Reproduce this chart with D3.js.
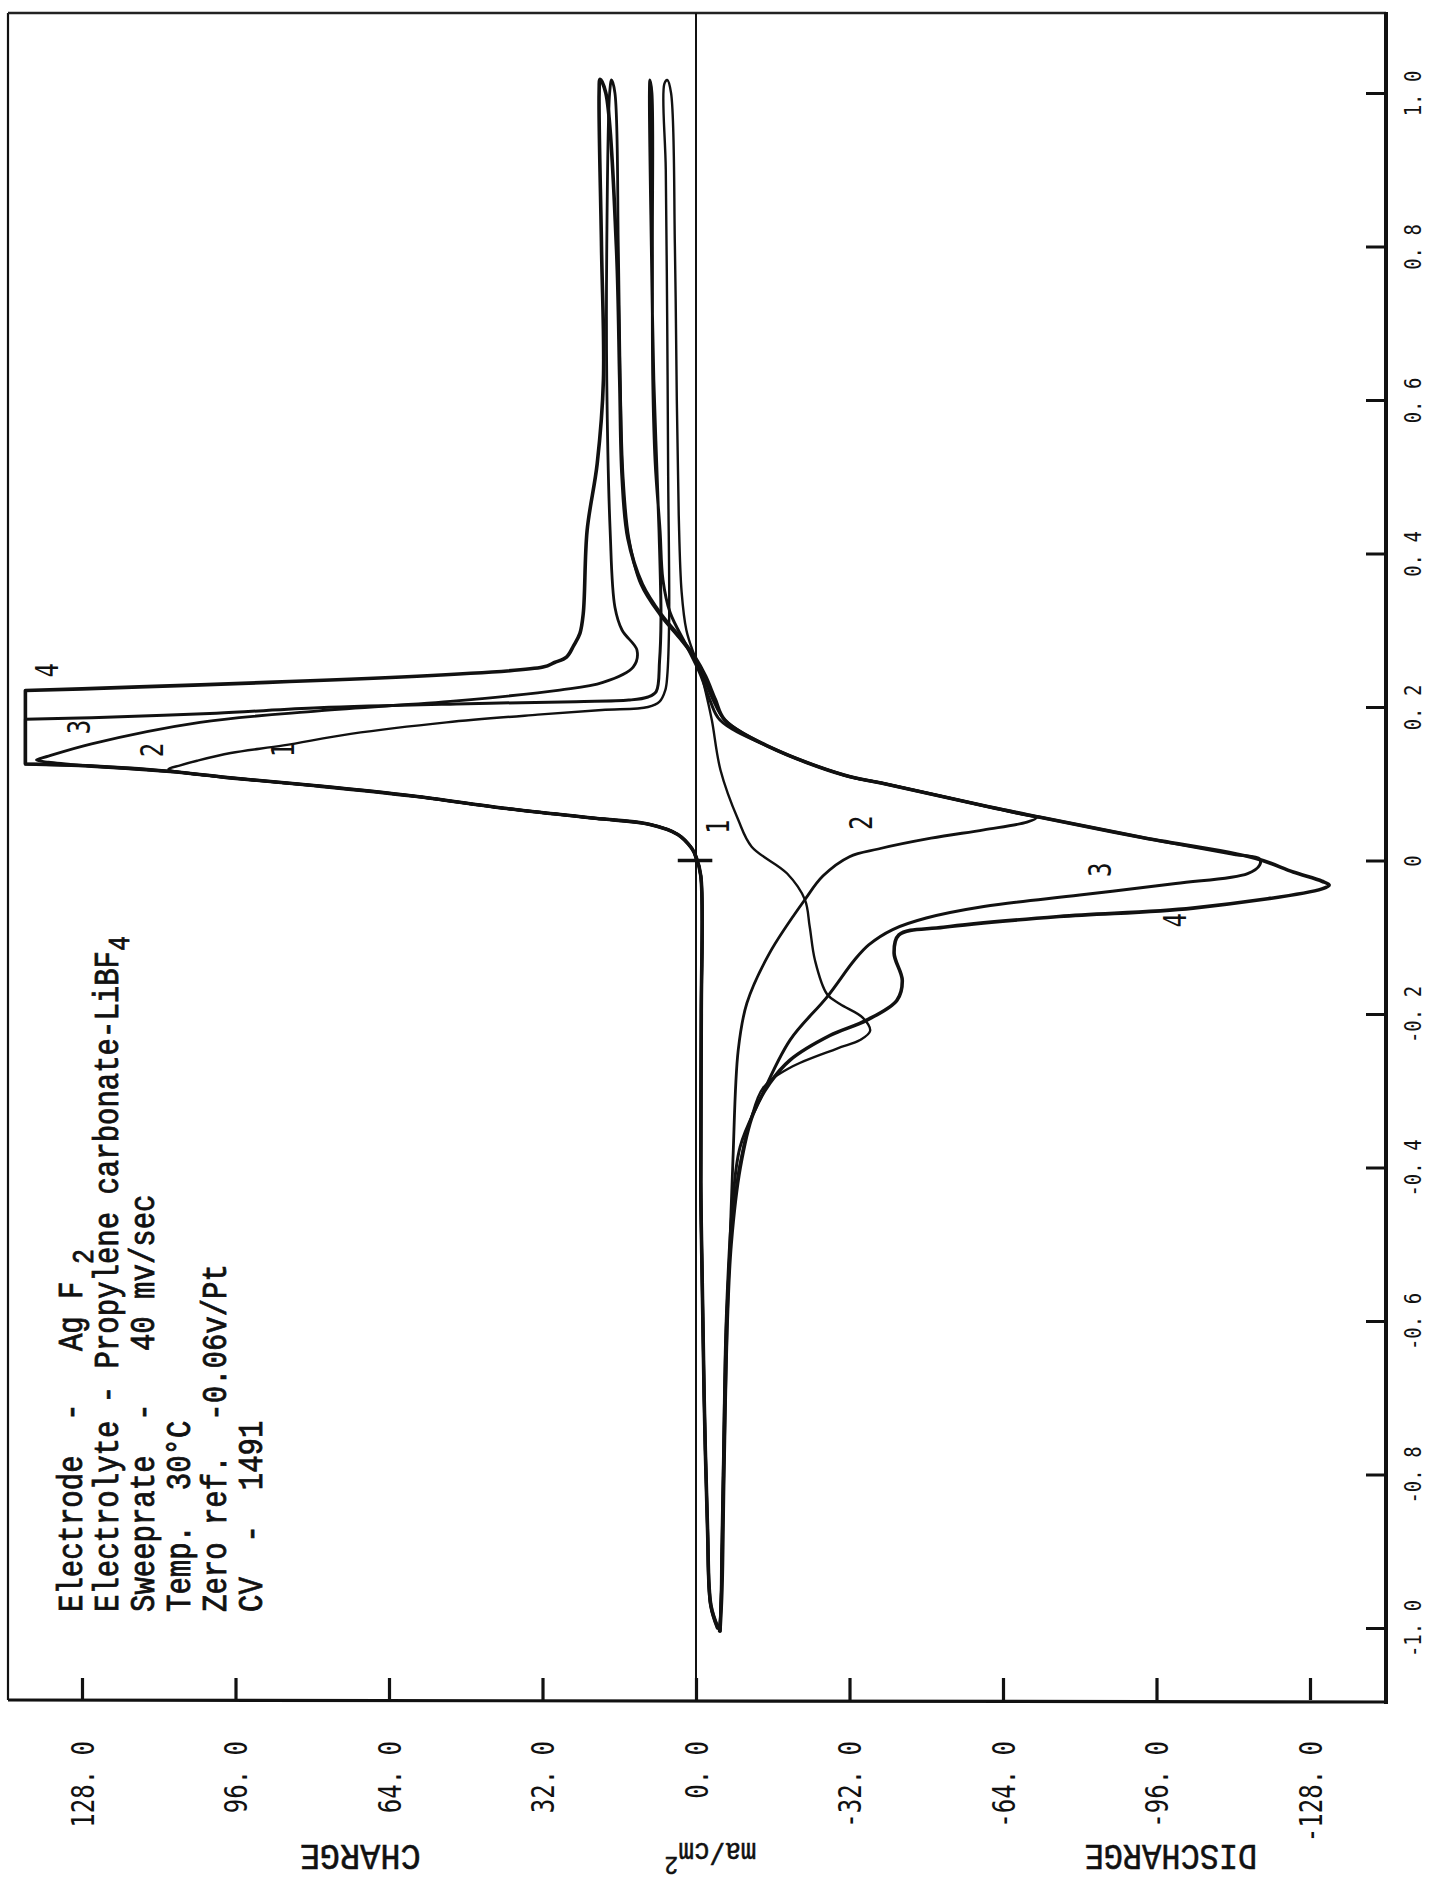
<!DOCTYPE html>
<html>
<head>
<meta charset="utf-8">
<script src="https://cdn.jsdelivr.net/npm/d3@7"></script>
<style>
  html, body { margin: 0; padding: 0; background: #fff; }
  svg { display: block; }
  text { white-space: pre; }
</style>
</head>
<body>
<svg id="chart" width="1430" height="1886"></svg>
<script>
// Potential sweep axis (volts) and current axis (ma/cm2)
const voltTicks = [1.0, 0.8, 0.6, 0.4, 0.2, 0, -0.2, -0.4, -0.6, -0.8, -1.0];
const voltLabels = ["1. 0", "0. 8", "0. 6", "0. 4", "0. 2", "0", "-0. 2", "-0. 4", "-0. 6", "-0. 8", "-1. 0"];
const currentTicks = [128, 96, 64, 32, 0, -32, -64, -96, -128];
const currentLabels = ["128. 0", "96. 0", "64. 0", "32. 0", "0. 0", "-32. 0", "-64. 0", "-96. 0", "-128. 0"];

// Recorder pen limit on the charge side (ma/cm2)
const penLimit = 139.8;

// Each cycle as [volts, ma/cm2] in sweep order
const cycle1 = [
  [0.000, 0.0], [0.016, 0.9], [0.034, 3.8], [0.047, 9.6], [0.055, 21], [0.068, 40], [0.084, 59],
  [0.097, 78.6], [0.108, 97.7], [0.116, 108.5], [0.119, 110], [0.124, 107.5], [0.130, 104],
  [0.140, 97], [0.150, 86], [0.165, 72], [0.180, 52], [0.190, 33], [0.196, 19.6], [0.200, 10],
  [0.207, 7.6], [0.222, 6.4], [0.240, 6.0], [0.313, 5.6], [0.50, 5.8], [0.70, 6.0], [0.90, 6.3],
  [1.012, 6.6], [1.017, 6.0], [1.000, 5.2], [0.80, 4.4], [0.60, 4.0], [0.45, 3.6], [0.35, 3.0],
  [0.30, 2.0], [0.27, 0.5], [0.25, -0.8], [0.22, -2.0], [0.183, -3.3], [0.118, -5.1], [0.053, -8.8],
  [0.018, -11.6], [-0.017, -19], [-0.051, -22.7], [-0.086, -23.7], [-0.13, -24.8], [-0.174, -27.3],
  [-0.187, -30], [-0.205, -34.8], [-0.222, -36.3], [-0.234, -34.2], [-0.245, -29.4], [-0.27, -19.6],
  [-0.296, -14], [-0.34, -11.3], [-0.40, -9.0], [-0.50, -7.2], [-0.60, -6.3], [-0.70, -5.9],
  [-0.80, -5.6], [-0.90, -5.3], [-0.98, -5.1], [-1.004, -4.8]
];

const cycle2 = [
  [-1.0, -4.4], [-0.97, -3.0], [-0.87, -2.4], [-0.70, -1.7], [-0.55, -1.3], [-0.42, -1.0],
  [-0.20, -1.1], [-0.02, -1.0], [0.005, 0], [0.016, 0.9], [0.034, 3.8], [0.047, 9.6], [0.055, 21],
  [0.068, 40], [0.084, 59], [0.097, 78.6], [0.108, 97.7], [0.116, 109.6], [0.123, 126], [0.128, 135],
  [0.131, 137.5], [0.136, 135], [0.152, 126], [0.180, 103.4], [0.195, 78.6], [0.208, 50],
  [0.222, 28.4], [0.232, 19.4], [0.252, 13.1], [0.274, 12.3], [0.30, 15.4], [0.33, 16.9],
  [0.43, 17.9], [0.626, 18.6], [0.80, 18.6], [1.00, 18.0], [1.017, 17.6], [1.00, 16.9], [0.80, 16.2],
  [0.626, 15.8], [0.50, 15.2], [0.42, 14.0], [0.36, 11.5], [0.32, 7.5], [0.29, 3.5], [0.265, 0.5],
  [0.24, -1.5], [0.21, -3.5], [0.183, -6], [0.148, -15.3], [0.111, -31], [0.101, -38.6], [0.07, -61],
  [0.060, -68], [0.056, -71], [0.050, -69], [0.040, -60], [0.029, -49], [0.015, -38], [0.005, -32],
  [-0.02, -26.5], [-0.051, -22.7], [-0.121, -15.3], [-0.186, -10.6], [-0.247, -8.8], [-0.39, -7.7],
  [-0.494, -7.1], [-0.60, -6.5], [-0.80, -5.8], [-0.95, -5.3], [-1.004, -5.0]
];

const cycle3 = [
  [-1.0, -4.6], [-0.97, -3.1], [-0.87, -2.4], [-0.70, -1.7], [-0.55, -1.3], [-0.42, -1.0],
  [-0.20, -1.1], [-0.02, -1.0], [0.005, 0], [0.016, 0.9], [0.034, 3.8], [0.047, 9.6], [0.055, 21],
  [0.068, 40], [0.084, 59], [0.097, 78.6], [0.108, 97.7], [0.116, 109.6], [0.123, 126],
  [0.1257, 139.8], [0.184, 139.8], [0.186, 126], [0.192, 100], [0.199, 78.6], [0.204, 50],
  [0.207, 25], [0.209, 14], [0.213, 10], [0.22, 8.3], [0.26, 7.6], [0.313, 7.3], [0.43, 7.7],
  [0.626, 8.8], [0.80, 9.3], [1.00, 9.7], [1.017, 9.6], [1.00, 9.2], [0.80, 9.1], [0.626, 9.0],
  [0.518, 8.5], [0.43, 7.5], [0.366, 6.9], [0.323, 5.4], [0.28, 2.0], [0.244, -0.8], [0.209, -2.9],
  [0.183, -5], [0.148, -15.3], [0.111, -31], [0.101, -38.6], [0.07, -61], [0.056, -72], [0.03, -93],
  [0.008, -112], [0.002, -117.5], [-0.006, -117.5], [-0.017, -115], [-0.030, -100], [-0.045, -80],
  [-0.060, -60], [-0.075, -48], [-0.09, -41], [-0.11, -36], [-0.13, -33], [-0.178, -27.3],
  [-0.234, -19.6], [-0.312, -13.3], [-0.373, -9.2], [-0.45, -7.6], [-0.60, -6.3], [-0.80, -5.7],
  [-0.95, -5.3], [-1.004, -5.0]
];

const cycle4 = [
  [-1.0, -4.6], [-0.97, -3.1], [-0.87, -2.4], [-0.70, -1.7], [-0.55, -1.3], [-0.42, -1.0],
  [-0.20, -1.1], [-0.02, -1.0], [0.005, 0], [0.016, 0.9], [0.034, 3.8], [0.047, 9.6], [0.055, 21],
  [0.068, 40], [0.084, 59], [0.097, 78.6], [0.108, 97.7], [0.116, 109.6], [0.123, 126],
  [0.1257, 139.8], [0.2215, 139.8], [0.252, 31.9], [0.258, 29.5], [0.265, 27], [0.28, 25.5],
  [0.296, 24.2], [0.322, 23.5], [0.43, 22.7], [0.517, 20.6], [0.626, 19.3], [0.80, 19.7],
  [1.00, 20.2], [1.018, 20.0], [1.00, 18.8], [0.80, 16.6], [0.626, 15.9], [0.50, 15.4], [0.42, 14.2],
  [0.36, 11.2], [0.32, 7.2], [0.29, 3.2], [0.265, 0.2], [0.24, -2], [0.21, -4], [0.183, -6],
  [0.148, -15.3], [0.111, -31], [0.101, -38.6], [0.07, -61], [0.056, -72], [0.03, -93],
  [0.003, -116.6], [-0.015, -124.5], [-0.027, -130.5], [-0.032, -132], [-0.037, -130.5],
  [-0.062, -103.6], [-0.073, -75.7], [-0.087, -51.6], [-0.097, -42.3], [-0.121, -41.3],
  [-0.156, -43], [-0.182, -41.9], [-0.208, -35.6], [-0.228, -27.9], [-0.26, -19.6], [-0.29, -15.4],
  [-0.33, -11.9], [-0.40, -9.2], [-0.50, -7.3], [-0.60, -6.5], [-0.80, -5.8], [-0.95, -5.4],
  [-1.004, -5.0]
];

const cycleNames = ["1", "2", "3", "4"];
const cycleWidths = [2.4, 2.8, 3.0, 3.6];

// Cycle numbers written beside the peaks
const peakLabelText = ["4", "3", "2", "1", "1", "2", "3", "4"];
const peakLabelVolts = [0.248, 0.174, 0.144, 0.144, 0.044, 0.049, -0.012, -0.078];
const peakLabelCurrent = [135.3, 128.6, 113.4, 86.2, -4.6, -34.4, -84.1, -99.9];

// Run conditions
const conditionLines = [
  ["Electrode  -   Ag F ", "2"],
  ["Electrolyte - Propylene carbonate-LiBF", "4"],
  ["Sweeprate  -   40 mv/sec", ""],
  ["Temp.  30\u00B0C", ""],
  ["Zero ref.  -0.06v/Pt", ""],
  ["CV  -  1491", ""]
];

const svg = d3.select("#chart");
const frame = { left: 8, top: 13, right: 1386, bottom: 1700 };

const x = d3.scaleLinear().domain([128, -128]).range([82, 1310]);
const y = d3.scaleLinear().domain([1, -1]).range([93, 1628]);

const ink = "#111";

// Frame: left and top edges
svg.append("line").attr("x1", frame.left).attr("x2", frame.left)
  .attr("y1", frame.top).attr("y2", frame.bottom)
  .attr("stroke", ink).attr("stroke-width", 2.2);
svg.append("line").attr("x1", frame.left).attr("x2", frame.right)
  .attr("y1", frame.top).attr("y2", frame.top)
  .attr("stroke", "#222").attr("stroke-width", 2.6);

// Zero-current line across the whole plot
svg.append("line").attr("x1", x(0)).attr("x2", x(0))
  .attr("y1", frame.top).attr("y2", frame.bottom)
  .attr("stroke", ink).attr("stroke-width", 2);

// Current axis along the bottom, ticks pointing into the plot
const bottomAxis = d3.axisBottom(x)
  .tickValues(currentTicks)
  .tickSizeInner(-22).tickSizeOuter(0)
  .tickFormat((d, i) => currentLabels[i]);
const gB = svg.append("g").attr("transform", `translate(0,${frame.bottom})`).call(bottomAxis);
gB.select(".domain").remove();
gB.selectAll(".tick line").attr("stroke", ink).attr("stroke-width", 3.2);
gB.selectAll(".tick text")
  .attr("x", 0).attr("y", 0).attr("dy", "0.36em")
  .attr("text-anchor", "end")
  .attr("transform", "translate(0,41) rotate(-90) scale(1,1.3)")
  .style("font-family", "'DejaVu Sans Mono', monospace")
  .style("font-size", "24px").attr("fill", ink);
svg.append("line").attr("x1", frame.left).attr("x2", frame.right)
  .attr("y1", frame.bottom).attr("y2", frame.bottom + 2)
  .attr("stroke", ink).attr("stroke-width", 3.2);

// Potential axis along the right, ticks pointing into the plot
const rightAxis = d3.axisRight(y)
  .tickValues(voltTicks)
  .tickSizeInner(-20).tickSizeOuter(0)
  .tickFormat((d, i) => voltLabels[i]);
const gR = svg.append("g").attr("transform", `translate(${frame.right},0)`).call(rightAxis);
gR.select(".domain").remove();
gR.selectAll(".tick line").attr("stroke", ink).attr("stroke-width", 3);
gR.selectAll(".tick text")
  .attr("x", 0).attr("y", 0).attr("dy", "0.36em")
  .attr("text-anchor", "middle")
  .attr("transform", "translate(26,0) rotate(-90) scale(1,1.25)")
  .style("font-family", "'DejaVu Sans Mono', monospace")
  .style("font-size", "19px").attr("fill", ink);
svg.append("line").attr("x1", frame.right).attr("x2", frame.right)
  .attr("y1", frame.top - 1).attr("y2", frame.bottom + 4)
  .attr("stroke", ink).attr("stroke-width", 4);

// Voltammogram traces; points held at the pen limit become sharp corners
const trace = d3.line()
  .x(d => x(d[1]))
  .y(d => y(d[0]))
  .curve(d3.curveCatmullRom.alpha(0.5));

function splitAtPenLimit(points) {
  const pieces = [];
  let cur = [points[0]];
  for (let i = 1; i < points.length; i++) {
    cur.push(points[i]);
    if (points[i][1] >= penLimit && i < points.length - 1) {
      pieces.push(cur);
      cur = [points[i]];
    }
  }
  if (cur.length > 1) pieces.push(cur);
  return pieces;
}

const cycles = [cycle1, cycle2, cycle3, cycle4];
const traces = svg.append("g").attr("class", "traces");
cycles.forEach((c, i) => {
  traces.append("path")
    .attr("d", splitAtPenLimit(c).map(trace).join(""))
    .attr("fill", "none")
    .attr("stroke", ink)
    .attr("stroke-width", cycleWidths[i])
    .attr("stroke-linejoin", "round")
    .attr("stroke-linecap", "round")
    .attr("data-cycle", cycleNames[i]);
});

// Starting point marker at zero potential
svg.append("line")
  .attr("x1", x(3.8)).attr("x2", x(-3.4))
  .attr("y1", y(0)).attr("y2", y(0))
  .attr("stroke", ink).attr("stroke-width", 3.4);

// Cycle numbers
svg.append("g").selectAll("text").data(peakLabelText).join("text")
  .attr("transform", (d, i) => `translate(${x(peakLabelCurrent[i])},${y(peakLabelVolts[i])}) rotate(-90) scale(1,1.3)`)
  .attr("text-anchor", "middle").attr("dy", "0.36em")
  .style("font-family", "'DejaVu Sans Mono', monospace")
  .style("font-size", "24px").attr("fill", ink)
  .text(d => d);

// Run conditions block, typed sideways
const cond = svg.append("g")
  .style("font-family", "'Liberation Mono', 'Courier New', monospace")
  .style("font-size", "29px").attr("fill", ink)
  .attr("stroke", ink).attr("stroke-width", 0.7);
conditionLines.forEach((ln, i) => {
  const t = cond.append("text")
    .attr("transform", `translate(${82 + i * 36},1612) rotate(-90) scale(1,1.2)`)
    .attr("text-anchor", "start");
  t.append("tspan").text(ln[0]);
  if (ln[1]) t.append("tspan").attr("dy", "0.35em").style("font-size", "25px").text(ln[1]);
});

// Axis titles, upside down beneath the current axis
const titleStyle = sel => sel
  .style("font-family", "'Liberation Mono', 'Courier New', monospace")
  .attr("fill", ink).attr("stroke", ink).attr("stroke-width", 0.5)
  .attr("text-anchor", "middle");

svg.append("text").call(titleStyle)
  .attr("transform", `translate(${x(70)},1845) rotate(180) scale(1.05,1.15)`)
  .style("font-size", "32px").text("CHARGE");
svg.append("text").call(titleStyle)
  .attr("transform", `translate(${x(-99)},1845) rotate(180) scale(1.0,1.15)`)
  .style("font-size", "32px").text("DISCHARGE");
const unit = svg.append("text").call(titleStyle)
  .attr("transform", `translate(${x(-3)},1843) rotate(180) scale(1,1.1)`)
  .style("font-size", "26px");
unit.append("tspan").text("ma/cm");
unit.append("tspan").attr("dy", "-0.55em").style("font-size", "23px").text("2");
</script>
</body>
</html>
